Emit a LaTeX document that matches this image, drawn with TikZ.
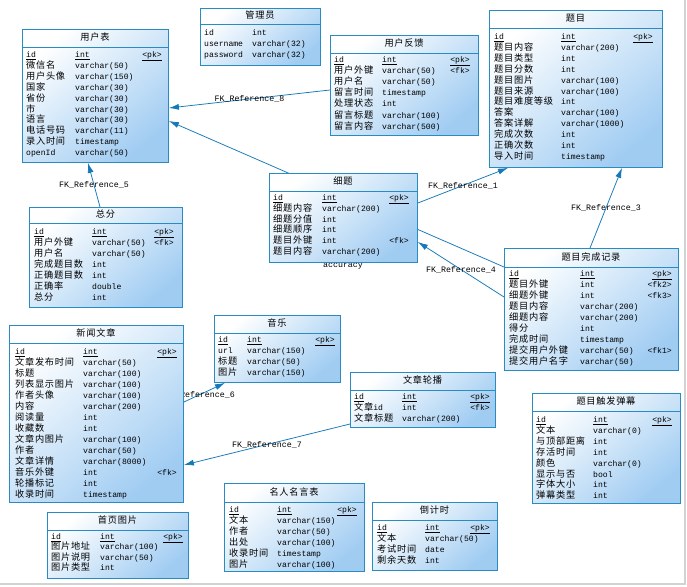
\documentclass[tikz,border=0pt]{standalone}
\usepackage{fontspec}
\setmainfont{Liberation Mono}
\newfontfamily\cjk[LetterSpace=8]{Noto Sans CJK SC}
\usetikzlibrary{arrows.meta}
\pgfdeclarelayer{bg}
\pgfdeclarelayer{paper}
\pgfsetlayers{paper,bg,main}
\definecolor{bord}{RGB}{40,140,195}
\definecolor{fillb}{RGB}{160,204,242}
\definecolor{conn}{RGB}{20,120,185}
\newcommand\zh[1]{{\cjk\fontsize{9.2}{11}\selectfont #1}}
\tikzset{
 tbox/.style={draw=bord, line width=0.9pt, top color=white, bottom color=fillb, shading angle=40, inner sep=0pt, anchor=north west},
 cell/.style={inner sep=0pt, text height=7pt, text depth=2pt, font=\fontsize{8.1}{10}\selectfont},
 ttl/.style={cell},
 fk/.style={draw=conn, line width=0.75pt, -{Latex[length=10pt,width=6pt]}},
 fklabel/.style={inner sep=0pt, font=\fontsize{8.3}{10}\selectfont},
}
\newcommand\tblbox[7]{%
 \node[tbox, minimum width={(#4-#2)*1pt}, minimum height={(#5-#3)*1pt}] (#1) at (#2,#3) {};
 \node[ttl] (#1-t) at ({(#2+#4)/2},{(#3+#6)/2}) {\zh{#7}};
 \draw[bord, line width=0.9pt] (#2,#6) -- (#4,#6);
}
\newcommand\tblrows[7]{%
 \foreach \xa/\xb/\xc [count=\i from 0] in {#7} {
   \node[cell, anchor=west] (#1-a\i) at (#2, {#5+\i*#6}) {\xa};
   \node[cell, anchor=west] (#1-b\i) at (#3, {#5+\i*#6}) {\xb};
   \node[cell, anchor=east] (#1-c\i) at (#4, {#5+\i*#6}) {\xc};
 }}
\begin{document}
\begin{tikzpicture}[x=1pt,y=-1pt]
\useasboundingbox (0,0) rectangle (687,586);
\begin{pgfonlayer}{paper}
\fill[white] (0,0) rectangle (687,586);
\draw[gray!35, line width=1.5pt] (685,0) -- (685,584) -- (0,584);
\end{pgfonlayer}

% tables
\tblbox{users}{22}{29}{168}{162}{47}{用户表}
\tblrows{users}{26}{75}{162}{55}{10.9}{\underline{id}/\underline{int}/\underline{<pk>}, \zh{微信名}/varchar(50)/{}, \zh{用户头像}/varchar(150)/{}, \zh{国家}/varchar(30)/{}, \zh{省份}/varchar(30)/{}, \zh{市}/varchar(30)/{}, \zh{语言}/varchar(30)/{}, \zh{电话号码}/varchar(11)/{}, \zh{录入时间}/timestamp/{}, openId/varchar(50)/{}}

\tblbox{adm}{200}{8}{320}{65}{24}{管理员}
\tblrows{adm}{204}{252}{316}{33}{11}{id/int/{}, username/varchar(32)/{}, password/varchar(32)/{}}

\tblbox{fb}{330}{35}{478}{135}{53}{用户反馈}
\tblrows{fb}{334}{382}{470}{60}{11.1}{\underline{id}/\underline{int}/\underline{<pk>}, \zh{用户外键}/varchar(50)/<fk>, \zh{用户名}/varchar(50)/{}, \zh{留言时间}/timestamp/{}, \zh{处理状态}/int/{}, \zh{留言标题}/varchar(100)/{}, \zh{留言内容}/varchar(500)/{}}

\tblbox{tm}{489}{10}{662}{167}{28}{题目}
\tblrows{tm}{494}{561}{653}{37}{10.9}{\underline{id}/\underline{int}/\underline{<pk>}, \zh{题目内容}/varchar(200)/{}, \zh{题目类型}/int/{}, \zh{题目分数}/int/{}, \zh{题目图片}/varchar(100)/{}, \zh{题目来源}/varchar(100)/{}, \zh{题目难度等级}/int/{}, \zh{答案}/varchar(100)/{}, \zh{答案详解}/varchar(1000)/{}, \zh{完成次数}/int/{}, \zh{正确次数}/int/{}, \zh{导入时间}/timestamp/{}}

\tblbox{tot}{29}{207}{182}{307}{223}{总分}
\tblrows{tot}{34}{92}{174}{232}{11}{\underline{id}/\underline{int}/\underline{<pk>}, \zh{用户外键}/varchar(50)/<fk>, \zh{用户名}/varchar(50)/{}, \zh{完成题目数}/int/{}, \zh{正确题目数}/int/{}, \zh{正确率}/double/{}, \zh{总分}/int/{}}

\tblbox{xt}{269}{173}{417}{262}{191}{细题}
\tblrows{xt}{273}{322}{409}{198}{10.8}{\underline{id}/\underline{int}/\underline{<pk>}, \zh{细题内容}/varchar(200)/{}, \zh{细题分值}/int/{}, \zh{细题顺序}/int/{}, \zh{题目外键}/int/<fk>, \zh{题目内容}/varchar(200)/{}}

\tblbox{rec}{504}{248}{678}{370}{267}{题目完成记录}
\tblrows{rec}{509}{580}{672}{274}{11}{\underline{id}/\underline{int}/\underline{<pk>}, \zh{题目外键}/int/<fk2>, \zh{细题外键}/int/<fk3>, \zh{题目内容}/varchar(200)/{}, \zh{细题内容}/varchar(200)/{}, \zh{得分}/int/{}, \zh{完成时间}/timestamp/{}, \zh{提交用户外键}/varchar(50)/<fk1>, \zh{提交用户名字}/varchar(50)/{}}

\tblbox{news}{9}{325}{183}{502}{343}{新闻文章}
\tblrows{news}{15}{83}{177}{352}{11}{\underline{id}/\underline{int}/\underline{<pk>}, \zh{文章发布时间}/varchar(50)/{}, \zh{标题}/varchar(100)/{}, \zh{列表显示图片}/varchar(100)/{}, \zh{作者头像}/varchar(100)/{}, \zh{内容}/varchar(200)/{}, \zh{阅读量}/int/{}, \zh{收藏数}/int/{}, \zh{文章内图片}/varchar(100)/{}, \zh{作者}/varchar(50)/{}, \zh{文章详情}/varchar(8000)/{}, \zh{音乐外键}/int/<fk>, \zh{轮播标记}/int/{}, \zh{收录时间}/timestamp/{}}

\tblbox{music}{214}{315}{340}{382}{333}{音乐}
\tblrows{music}{218}{247}{335}{340}{11}{\underline{id}/\underline{int}/\underline{<pk>}, url/varchar(150)/{}, \zh{标题}/varchar(50)/{}, \zh{图片}/varchar(150)/{}}

\tblbox{lb}{350}{372}{495}{427}{390}{文章轮播}
\tblrows{lb}{354}{402}{490}{397}{10.8}{\underline{id}/\underline{int}/\underline{<pk>}, \zh{文章}id/int/<fk>, \zh{文章标题}/varchar(200)/{}}

\tblbox{dm}{532}{393}{680}{503}{411}{题目触发弹幕}
\tblrows{dm}{536}{593}{672}{420}{10.9}{\underline{id}/\underline{int}/\underline{<pk>}, \zh{文本}/varchar(0)/{}, \zh{与顶部距离}/int/{}, \zh{存活时间}/int/{}, \zh{颜色}/varchar(0)/{}, \zh{显示与否}/bool/{}, \zh{字体大小}/int/{}, \zh{弹幕类型}/int/{}}

\tblbox{home}{47}{512}{188}{578}{530}{首页图片}
\tblrows{home}{51}{100}{183}{537}{10.4}{\underline{id}/\underline{int}/\underline{<pk>}, \zh{图片地址}/varchar(100)/{}, \zh{图片说明}/varchar(50)/{}, \zh{图片类型}/int/{}}

\tblbox{quote}{224}{483}{364}{571}{502}{名人名言表}
\tblrows{quote}{229}{277}{357}{510}{10.9}{\underline{id}/\underline{int}/\underline{<pk>}, \zh{文本}/varchar(150)/{}, \zh{作者}/varchar(50)/{}, \zh{出处}/varchar(100)/{}, \zh{收录时间}/timestamp/{}, \zh{图片}/varchar(100)/{}}

\tblbox{cd}{372}{502}{497}{570}{520}{倒计时}
\tblrows{cd}{377}{425}{490}{528}{11}{\underline{id}/\underline{int}/\underline{<pk>}, \zh{文本}/varchar(50)/{}, \zh{考试时间}/date/{}, \zh{剩余天数}/int/{}}

% connectors
\begin{pgfonlayer}{bg}
 \draw[fk] (fb.west |- 0,90) -- (users.east |- 0,108) node[fklabel, pos=0.5] (l8) {FK\_Reference\_8};
 \draw[fk] (rec.west |- 0,267) -- (users.east |- 0,121);
 \draw[fk] (tot.north -| 100,0) -- (users.south -| 88,0) node[fklabel, pos=0.5] (l5) {FK\_Reference\_5};
 \draw[fk] (xt.east |- 0,203) -- (tm.south -| 508,0) node[fklabel, pos=0.5] (l1) {FK\_Reference\_1};
 \draw[fk] (rec.north -| 590,0) -- (tm.south -| 622,0) node[fklabel, pos=0.5] (l3) {FK\_Reference\_3};
 \draw[fk] (rec.west |- 0,297) -- (xt.east |- 0,242) node[fklabel, pos=0.5] (l4) {FK\_Reference\_4};
 \draw[fk] (news.east |- 0,402) -- (music.south -| 225,0);
 \node[fklabel] (l6) at (200,395) {FK\_Reference\_6};
 \draw[fk] (lb.west |- 0,424) -- (news.east |- 0,465) node[fklabel, pos=0.5] (l7) {FK\_Reference\_7};
 \node[fklabel] (acc) at (343,266) {accuracy};
\end{pgfonlayer}
\end{tikzpicture}
\end{document}
